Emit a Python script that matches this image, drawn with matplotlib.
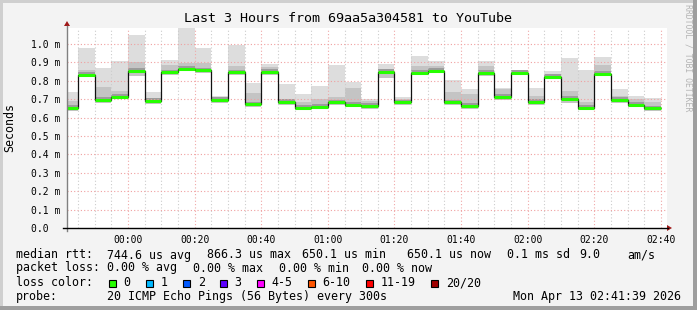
# SmokePing style latency graph: last 3 hours, median rtt with smoke.

import matplotlib.pyplot as plt
from matplotlib.patches import Rectangle, Polygon

# Step end times, minutes after 00:00 (one sample every 5 minutes)
step_ends = [-15, -10, -5, 0, 5, 10, 15, 20, 25, 30, 35, 40, 45, 50, 55, 60,
             65, 70, 75, 80, 85, 90, 95, 100, 105, 110, 115, 120, 125, 130,
             135, 140, 145, 150, 155, 160]

# Round trip times in ms
median_rtt = [0.652, 0.832, 0.696, 0.714, 0.855, 0.692, 0.846, 0.866, 0.858,
              0.696, 0.846, 0.673, 0.848, 0.686, 0.653, 0.660, 0.684, 0.669,
              0.663, 0.849, 0.684, 0.843, 0.854, 0.683, 0.664, 0.843, 0.713,
              0.843, 0.686, 0.823, 0.701, 0.652, 0.838, 0.696, 0.669, 0.650]
max_rtt = [0.740, 0.979, 0.871, 0.909, 1.050, 0.740, 0.913, 1.090, 0.978,
           0.718, 0.996, 0.789, 0.893, 0.784, 0.728, 0.772, 0.888, 0.795,
           0.701, 0.893, 0.714, 0.935, 0.909, 0.802, 0.756, 0.908, 0.761,
           0.860, 0.761, 0.855, 0.925, 0.859, 0.931, 0.756, 0.717, 0.707]
min_rtt = [0.636, 0.820, 0.680, 0.700, 0.825, 0.675, 0.832, 0.852, 0.845,
           0.680, 0.830, 0.655, 0.830, 0.670, 0.640, 0.645, 0.670, 0.655,
           0.645, 0.815, 0.670, 0.830, 0.840, 0.668, 0.645, 0.825, 0.695,
           0.830, 0.670, 0.810, 0.680, 0.640, 0.825, 0.680, 0.655, 0.635]
# top of the denser part of the smoke
mid_rtt = [0.692, 0.860, 0.765, 0.746, 0.900, 0.700, 0.888, 0.895, 0.895,
           0.710, 0.882, 0.732, 0.873, 0.701, 0.683, 0.701, 0.714, 0.759,
           0.688, 0.864, 0.700, 0.882, 0.880, 0.737, 0.728, 0.882, 0.755,
           0.852, 0.719, 0.837, 0.746, 0.683, 0.888, 0.719, 0.700, 0.683]

y_ticks = [0.0, 0.1, 0.2, 0.3, 0.4, 0.5, 0.6, 0.7, 0.8, 0.9, 1.0]
y_labels = ["0.0  ", "0.1 m", "0.2 m", "0.3 m", "0.4 m", "0.5 m", "0.6 m",
            "0.7 m", "0.8 m", "0.9 m", "1.0 m"]
x_ticks = [0, 20, 40, 60, 80, 100, 120, 140, 160]
x_labels = ["00:00", "00:20", "00:40", "01:00", "01:20", "01:40", "02:00",
            "02:20", "02:40"]

loss_names = ["0", "1", "2", "3", "4-5", "6-10", "11-19", "20/20"]
loss_colors = ["#26ff00", "#00b8ff", "#0059ff", "#5e00ff", "#ff00ff",
               "#ff5500", "#ff0000", "#a10000"]

W, H = 697, 310
MONO = "DejaVu Sans Mono"


def fx(px):
    return px / W


def fy(py):
    return 1 - py / H


fig = plt.figure(figsize=(W / 100, H / 100), dpi=100, facecolor="#f3f3f3")

# 3D-ish frame around the image
fig.patches.append(Rectangle((0, 0), fx(3), 1, transform=fig.transFigure,
                             fc="#cfcfcf", ec="none"))
fig.patches.append(Rectangle((0, fy(3)), 1, 3 / H, transform=fig.transFigure,
                             fc="#cfcfcf", ec="none"))
fig.patches.append(Rectangle((fx(693), 0), fx(4), 1, transform=fig.transFigure,
                             fc="#9e9e9e", ec="none"))
fig.patches.append(Rectangle((0, 0), 1, 4 / H, transform=fig.transFigure,
                             fc="#9e9e9e", ec="none"))

ax = fig.add_axes([fx(67), fy(228), fx(600), 200 / H])
ax.set_facecolor("white")
ax.set_xlim(-18.3, 161.8)
ax.set_ylim(0, 200 / 184)

left_edges = [t - 5 for t in step_ends]
heights = [hi - lo for hi, lo in zip(max_rtt, min_rtt)]
mid_heights = [m - lo for m, lo in zip(mid_rtt, min_rtt)]

# smoke: full spread, denser part, darkest around the median
ax.bar(left_edges, heights, width=5, bottom=min_rtt, align="edge",
       color="#dddddd", lw=0, zorder=2)
ax.bar(left_edges, mid_heights, width=5, bottom=min_rtt, align="edge",
       color="#c4c4c4", lw=0, zorder=2)
ax.bar(left_edges, [0.022] * len(median_rtt), width=5,
       bottom=[m - 0.008 for m in median_rtt], align="edge",
       color="#9c9c9c", lw=0, zorder=2)

# grid
for t in range(-15, 165, 5):
    if t % 20 == 0:
        ax.axvline(t, color="#f0a8a8", lw=0.8, ls=(0, (1, 2)), zorder=3)
    else:
        ax.axvline(t, color="#cccccc", lw=0.8, ls=(0, (1, 2)), zorder=3)
for v in y_ticks[1:]:
    ax.axhline(v, color="#f0a0a0", lw=0.8, ls=(0, (1, 2)), zorder=3)

# median line
edges = left_edges + [step_ends[-1]]
ax.stairs(median_rtt, edges, baseline=None, color="#111111", lw=0.9, zorder=4)
ax.hlines(median_rtt, left_edges, step_ends, color=loss_colors[0], lw=2.2,
          zorder=5)

for s in ax.spines.values():
    s.set_visible(False)

ax.set_yticks(y_ticks)
ax.set_yticklabels(y_labels, family=MONO, fontsize=7, ha="left")
ax.tick_params(axis="y", length=0, pad=26)
ax.set_xticks(x_ticks)
ax.set_xticklabels(x_labels, family=MONO, fontsize=7)
ax.tick_params(axis="x", length=0, pad=5)

# axis lines with arrow heads
fig.add_artist(plt.Line2D([fx(67), fx(67)], [fy(231), fy(26)],
                          color="#808080", lw=1))
fig.add_artist(plt.Line2D([fx(63), fx(668)], [fy(228), fy(228)],
                          color="black", lw=1))
fig.patches.append(Polygon([(fx(64), fy(26)), (fx(70), fy(26)), (fx(67), fy(21))],
                           transform=fig.transFigure, fc="#a01818", ec="none"))
fig.patches.append(Polygon([(fx(667), fy(225)), (fx(667), fy(231)), (fx(672), fy(228))],
                           transform=fig.transFigure, fc="#a01818", ec="none"))

# title and side texts
fig.text(fx(348), fy(19), "Last 3 Hours from 69aa5a304581 to YouTube",
         family=MONO, fontsize=9.6, ha="center", va="center")
fig.text(fx(10), fy(128), "Seconds", family=MONO, fontsize=8.4,
         rotation=90, ha="center", va="center")
fig.text(fx(688), fy(4), "RRDTOOL / TOBI OETIKER", family=MONO, fontsize=5.9,
         rotation=270, ha="center", va="top", color="#b4b4b4")

# legend block
leg = [
    (255, [(16, "median rtt:"), (107, "744.6 us avg"), (207, "866.3 us max"),
           (302, "650.1 us min"), (407, "650.1 us now"), (507, "0.1 ms sd"),
           (579, "9.0"), (627, "am/s")]),
    (268, [(16, "packet loss:"), (107, "0.00 % avg"), (193, "0.00 % max"),
           (279, "0.00 % min"), (362, "0.00 % now")]),
    (282.5, [(16, "loss color:")]),
    (296.5, [(16, "probe:"), (107, "20 ICMP Echo Pings (56 Bytes) every 300s"),
             (513, "Mon Apr 13 02:41:39 2026")]),
]
for ypix, items in leg:
    for xpix, txt in items:
        fig.text(fx(xpix), fy(ypix), txt, family=MONO, fontsize=8.4,
                 ha="left", va="center")

box_x = [108.5, 146, 183, 219.5, 256.5, 307.5, 365.5, 431]
for bx, name, col in zip(box_x, loss_names, loss_colors):
    fig.patches.append(Rectangle((fx(bx), fy(286.5)), fx(7), 7 / H,
                                 transform=fig.transFigure, fc=col,
                                 ec="black", lw=0.8))
    fig.text(fx(bx + 15), fy(282.5), name, family=MONO, fontsize=8.4,
             ha="left", va="center")

plt.savefig("out.png", dpi=100, facecolor=fig.get_facecolor())
